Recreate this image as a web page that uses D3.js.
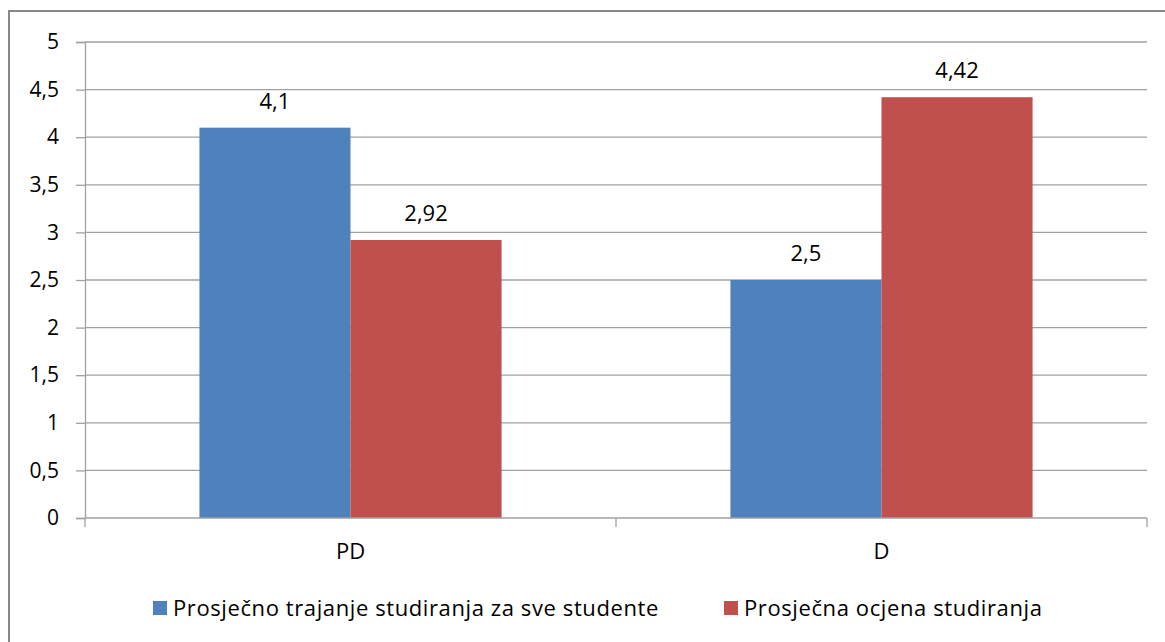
<!DOCTYPE html>
<html>
<head>
<meta charset="utf-8">
<script src="https://cdn.jsdelivr.net/npm/d3@7"></script>
<style>
  body { margin: 0; background: #fff; }
  text { font-family: "Open Sans", sans-serif; fill: #000; }
</style>
</head>
<body>
<div id="chart"></div>
<script>
var categories = ["PD", "D"];
var seriesNames = ["Prosječno trajanje studiranja za sve studente", "Prosječna ocjena studiranja"];
var trajanje = [4.1, 2.5];
var ocjena = [2.92, 4.42];
var yTicks = [0, 0.5, 1, 1.5, 2, 2.5, 3, 3.5, 4, 4.5, 5];
var colors = ["#4f81bd", "#c0504d"];

var width = 1165;
var height = 642;
var plotLeft = 85, plotRight = 1147, plotTop = 42, plotBottom = 518;

var svg = d3.select("#chart")
    .append("svg")
    .attr("width", width)
    .attr("height", height);

// outer frame
svg.append("rect")
    .attr("x", 9).attr("y", 11)
    .attr("width", 1170).attr("height", 650)
    .attr("fill", "none")
    .attr("stroke", "#878787")
    .attr("stroke-width", 2);

var y = d3.scaleLinear().domain([0, 5]).range([plotBottom, plotTop]);

var x0 = d3.scaleBand()
    .domain(categories)
    .range([plotLeft, plotRight])
    .paddingInner(0.431)
    .paddingOuter(0.2155);

var x1 = d3.scaleBand()
    .domain([0, 1])
    .range([0, x0.bandwidth()]);

// gridlines
svg.append("g")
    .selectAll("line")
    .data(yTicks.slice(1))
    .enter()
    .append("line")
    .attr("x1", plotLeft).attr("x2", plotRight)
    .attr("y1", function (d) { return y(d); })
    .attr("y2", function (d) { return y(d); })
    .attr("stroke", "#a0a0a0")
    .attr("stroke-width", 1.3);

// y axis
var yAxis = d3.axisLeft(y)
    .tickValues(yTicks)
    .tickSize(9)
    .tickPadding(17)
    .tickFormat(function (d) { return String(d).replace(".", ","); });

var gy = svg.append("g")
    .attr("transform", "translate(" + plotLeft + ",0)")
    .call(yAxis);
gy.select(".domain").attr("stroke", "#a0a0a0").attr("stroke-width", 1.3);
gy.selectAll(".tick line").attr("stroke", "#a0a0a0").attr("stroke-width", 1.3);
gy.selectAll(".tick text").style("font-size", "21px").attr("fill", "#000");

// bars
var rows = categories.map(function (c, i) {
    return { cat: c, values: [trajanje[i], ocjena[i]] };
});

var groups = svg.selectAll(".group")
    .data(rows)
    .enter()
    .append("g")
    .attr("class", "group")
    .attr("transform", function (d) { return "translate(" + x0(d.cat) + ",0)"; });

groups.selectAll("rect")
    .data(function (d) { return d.values.map(function (v, i) { return { s: i, v: v }; }); })
    .enter()
    .append("rect")
    .attr("x", function (d) { return x1(d.s); })
    .attr("width", x1.bandwidth())
    .attr("y", function (d) { return y(d.v); })
    .attr("height", function (d) { return plotBottom - y(d.v); })
    .attr("fill", function (d) { return colors[d.s]; });

groups.selectAll("text.val")
    .data(function (d) { return d.values.map(function (v, i) { return { s: i, v: v }; }); })
    .enter()
    .append("text")
    .attr("class", "val")
    .attr("x", function (d) { return x1(d.s) + x1.bandwidth() / 2; })
    .attr("y", function (d) { return y(d.v) - 19; })
    .attr("text-anchor", "middle")
    .style("font-size", "22px")
    .text(function (d) { return String(d.v).replace(".", ","); });

// x axis
var xBoundaries = d3.scaleLinear().domain([0, categories.length]).range([plotLeft, plotRight]);
svg.append("line")
    .attr("x1", plotLeft).attr("x2", plotRight)
    .attr("y1", plotBottom).attr("y2", plotBottom)
    .attr("stroke", "#a0a0a0").attr("stroke-width", 1.3);
svg.append("g")
    .selectAll("line")
    .data(d3.range(categories.length + 1))
    .enter()
    .append("line")
    .attr("x1", function (d) { return xBoundaries(d); })
    .attr("x2", function (d) { return xBoundaries(d); })
    .attr("y1", plotBottom).attr("y2", plotBottom + 9)
    .attr("stroke", "#a0a0a0").attr("stroke-width", 1.3);

svg.append("g")
    .selectAll("text")
    .data(categories)
    .enter()
    .append("text")
    .attr("x", function (d) { return x0(d) + x0.bandwidth() / 2; })
    .attr("y", 559)
    .attr("text-anchor", "middle")
    .style("font-size", "22px")
    .text(function (d) { return d; });

// legend
var legendX = [153, 724];
var legend = svg.selectAll(".legend")
    .data(seriesNames)
    .enter()
    .append("g")
    .attr("class", "legend")
    .attr("transform", function (d, i) { return "translate(" + legendX[i] + ",601)"; });
legend.append("rect")
    .attr("width", 14).attr("height", 14)
    .attr("fill", function (d, i) { return colors[i]; });
legend.append("text")
    .attr("x", 20).attr("y", 15)
    .style("font-size", "22px")
    .style("letter-spacing", "0.6px")
    .text(function (d) { return d; });
</script>
</body>
</html>
